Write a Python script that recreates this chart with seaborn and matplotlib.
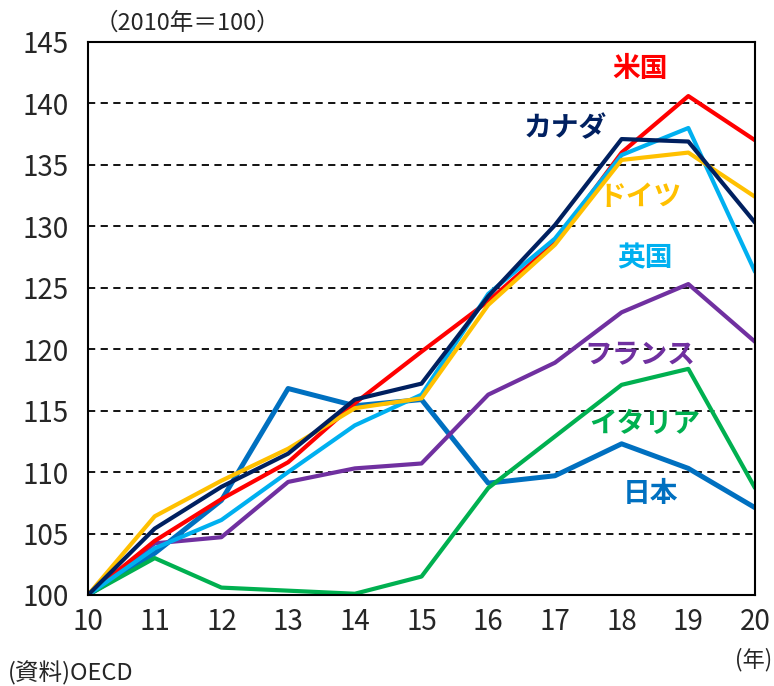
import pandas as pd
import matplotlib.pyplot as plt
import seaborn as sns

# Data (2010 = 100)
years = [10, 11, 12, 13, 14, 15, 16, 17, 18, 19, 20]
japan = [100, 103.4, 107.7, 116.8, 115.4, 115.9, 109.1, 109.7, 112.3, 110.3, 107.1]
italy = [100, 103.0, 100.6, 100.35, 100.1, 101.5, 108.7, 112.9, 117.1, 118.4, 108.7]
france = [100, 104.2, 104.7, 109.2, 110.3, 110.7, 116.3, 118.9, 123.0, 125.3, 120.6]
usa = [100, 104.4, 107.8, 110.8, 115.6, 119.8, 123.9, 128.7, 136.0, 140.6, 137.0]
uk = [100, 103.8, 106.1, 110.0, 113.8, 116.3, 124.5, 129.0, 135.8, 138.0, 126.3]
germany = [100, 106.4, 109.3, 111.9, 115.2, 116.0, 123.6, 128.5, 135.4, 136.0, 132.4]
canada = [100, 105.4, 108.8, 111.5, 115.9, 117.2, 124.3, 130.1, 137.1, 136.9, 130.3]

names = ['日本', 'イタリア', 'フランス', '米国', '英国', 'ドイツ', 'カナダ']
series = [japan, italy, france, usa, uk, germany, canada]
colors = ['#0070C0', '#00B050', '#7030A0', '#FF0000', '#00B0F0', '#FFC000', '#002060']

# label positions (x, y in data units)
label_x = [18.43, 18.35, 18.28, 18.28, 18.35, 18.28, 17.15]
label_y = [108.2, 113.9, 119.5, 142.8, 127.4, 132.4, 138.0]

df = pd.DataFrame({
    'year': years * len(names),
    'value': sum(series, []),
    'country': [n for n in names for _ in years],
})

sns.set_style('white')
plt.rcParams['font.family'] = ['Noto Sans CJK JP', 'DejaVu Sans']

fig = plt.figure(figsize=(7.74, 6.86), dpi=100)
ax = fig.add_axes([0.1137, 0.1327, 0.8618, 0.8061])

sns.lineplot(data=df, x='year', y='value', hue='country', hue_order=names,
             palette=colors, linewidth=3, legend=False, ax=ax)
# Japan a bit thicker
ax.lines[0].set_linewidth(3.6)

for y in range(105, 145, 5):
    ax.axhline(y, color='black', linestyle=(0, (4, 3)), linewidth=1.3, zorder=0)

for n, c, lx, ly in zip(names, colors, label_x, label_y):
    ax.text(lx, ly, n, color=c, fontsize=20, fontweight='bold', ha='center', va='center')

ax.set_xlim(10, 20)
ax.set_ylim(100, 145)
ax.set_xticks(years)
ax.set_xticklabels([str(y) for y in years])
ax.set_yticks(range(100, 146, 5))
ax.tick_params(axis='both', labelsize=20, length=0)
ax.tick_params(axis='x', pad=9)
ax.tick_params(axis='y', pad=14)
ax.set_xlabel('')
ax.set_ylabel('')
for s in ax.spines.values():
    s.set_color('black')
    s.set_linewidth(1.5)

fig.text(0.122, 0.966, '（2010年＝100）', fontsize=17, ha='left', va='center')
fig.text(0.997, 0.038, '(年)', fontsize=16, ha='right', va='center')
fig.text(0.01, 0.018, '(資料)OECD', fontsize=17, ha='left', va='center')

fig.savefig('out.png', dpi=100)
